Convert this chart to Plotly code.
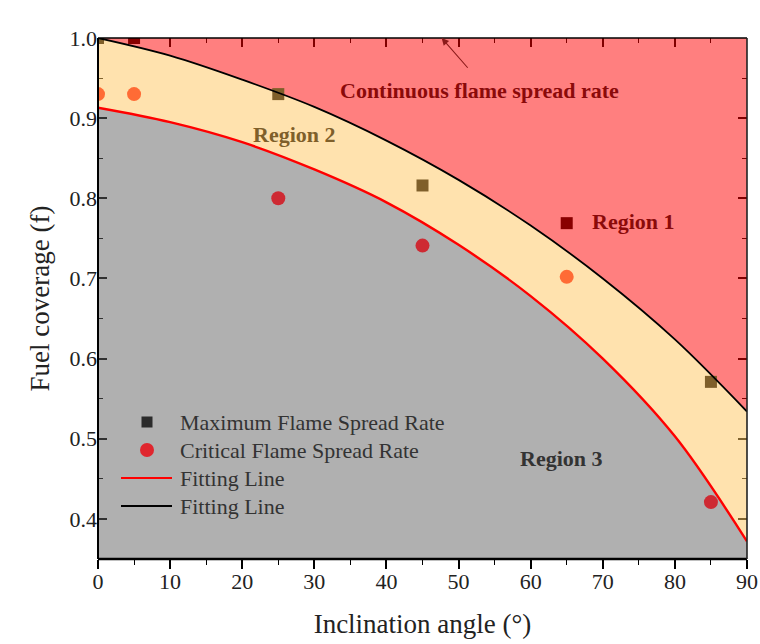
import numpy as np
import plotly.graph_objects as go

# Fitted boundary curves (inclination angle vs fuel coverage)
angle_fit = [0, 10, 20, 30, 40, 50, 60, 70, 80, 90]
max_fit = [1.000, 0.978, 0.948, 0.914, 0.872, 0.823, 0.766, 0.700, 0.624, 0.534]
crit_fit = [0.913, 0.895, 0.870, 0.836, 0.795, 0.742, 0.678, 0.600, 0.503, 0.372]

# Measured points
angle_pts = [0, 5, 25, 45, 65, 85]
max_rate = [1.0, 1.0, 0.93, 0.816, 0.769, 0.571]
crit_rate = [0.93, 0.93, 0.80, 0.741, 0.702, 0.421]

x_ticks = list(range(0, 91, 10))
y_ticks = [0.4, 0.5, 0.6, 0.7, 0.8, 0.9, 1.0]

legend_labels = ["Maximum Flame Spread Rate", "Critical Flame Spread Rate",
                 "Fitting Line", "Fitting Line"]

FONT = "Liberation Serif"
Y_MIN, Y_MAX = 0.35, 1.0

FILL_R1 = "rgba(255,0,0,0.5)"
FILL_R2 = "rgba(255,197,93,0.5)"
FILL_R3 = "rgba(97,97,97,0.5)"

# plot area in pixels (used for the hand-placed legend)
W, H = 760, 644
ML, MR, MT, MB = 98, 13, 38, 85
PW, PH = W - ML - MR, H - MT - MB


def px_to_paper(px, py):
    return (px - ML) / PW, (H - MB - py) / PH


def region_of(x, y):
    upper = np.interp(x, angle_fit, max_fit)
    lower = np.interp(x, angle_fit, crit_fit)
    if y > upper + 0.002:
        return 1
    if y > lower:
        return 2
    return 3


sq_colors = {1: "#880000", 2: "#7F5F2A", 3: "#2B2B2B"}
ci_colors = {1: "#8E1518", 2: "#FF6B35", 3: "#CE2A33"}

fig = go.Figure()

# Region 3: below the critical curve
fig.add_trace(go.Scatter(x=[0, 90], y=[Y_MIN, Y_MIN], mode="lines",
                         line=dict(width=0), hoverinfo="skip"))
fig.add_trace(go.Scatter(x=angle_fit, y=crit_fit, mode="lines", fill="tonexty",
                         fillcolor=FILL_R3, line=dict(width=0, shape="spline"),
                         hoverinfo="skip"))
# Region 2: between the two curves
fig.add_trace(go.Scatter(x=angle_fit, y=max_fit, mode="lines", fill="tonexty",
                         fillcolor=FILL_R2, line=dict(width=0, shape="spline"),
                         hoverinfo="skip"))
# Region 1: above the maximum curve
fig.add_trace(go.Scatter(x=[0, 90], y=[Y_MAX, Y_MAX], mode="lines", fill="tonexty",
                         fillcolor=FILL_R1, line=dict(width=0), hoverinfo="skip"))

# Data points coloured by the region they fall in
fig.add_trace(go.Scatter(
    x=angle_pts, y=crit_rate, mode="markers", name="Critical Flame Spread Rate",
    marker=dict(symbol="circle", size=14,
                color=[ci_colors[region_of(x, y)] for x, y in zip(angle_pts, crit_rate)],
                line=dict(width=0))))
fig.add_trace(go.Scatter(
    x=angle_pts, y=max_rate, mode="markers", name="Maximum Flame Spread Rate",
    marker=dict(symbol="square", size=12,
                color=[sq_colors[region_of(x, y)] for x, y in zip(angle_pts, max_rate)],
                line=dict(width=0))))

# Fitting lines
fig.add_trace(go.Scatter(x=angle_fit, y=crit_fit, mode="lines", name="Fitting Line",
                         line=dict(color="#FF0000", width=2.4, shape="spline")))
fig.add_trace(go.Scatter(x=angle_fit, y=max_fit, mode="lines", name="Fitting Line",
                         line=dict(color="#000000", width=1.8, shape="spline")))

# Helper trace for the mirrored (top/right) axes
fig.add_trace(go.Scatter(x=[None], y=[None], xaxis="x2", yaxis="y2", hoverinfo="skip"))

annotations = [
    dict(x=52.97, y=0.935, text="<b>Continuous flame spread rate</b>", showarrow=False,
         font=dict(family=FONT, size=22, color="#8B0A0A")),
    dict(x=74.3, y=0.771, text="<b>Region 1</b>", showarrow=False,
         font=dict(family=FONT, size=22, color="#8B0A0A")),
    dict(x=27.2, y=0.880, text="<b>Region 2</b>", showarrow=False,
         font=dict(family=FONT, size=22, color="#7F5F2A")),
    dict(x=64.3, y=0.476, text="<b>Region 3</b>", showarrow=False,
         font=dict(family=FONT, size=22, color="#333333")),
    dict(x=47.66, y=1.0, ax=51.45, ay=0.961, axref="x", ayref="y", text="",
         showarrow=True, arrowhead=2, arrowsize=1.3, arrowwidth=1.1,
         arrowcolor="#8B1A1A", standoff=0),
]

shapes = [
    dict(type="line", xref="paper", yref="paper", x0=0, x1=1, y0=0, y1=0,
         line=dict(color="black", width=2.6), layer="above"),
    dict(type="line", xref="paper", yref="paper", x0=0, x1=0, y0=0, y1=1,
         line=dict(color="black", width=2), layer="above"),
    dict(type="line", xref="paper", yref="paper", x0=0, x1=1, y0=1, y1=1,
         line=dict(color="black", width=1.6), layer="above"),
    dict(type="line", xref="paper", yref="paper", x0=1, x1=1, y0=0, y1=1,
         line=dict(color="#222222", width=1.6), layer="above"),
]

# Legend: symbols drawn as pixel-sized shapes, labels as annotations
row_y = [422, 450, 478, 506]
sym_x, line_x0, line_x1, text_x = 147, 121, 172, 178
for i, label in enumerate(legend_labels):
    xp, yp = px_to_paper(sym_x, row_y[i])
    if i == 0:
        shapes.append(dict(type="rect", xref="paper", yref="paper", xsizemode="pixel",
                           ysizemode="pixel", xanchor=xp, yanchor=yp,
                           x0=-5.5, x1=5.5, y0=-5.5, y1=5.5,
                           fillcolor="#2B2B2B", line=dict(width=0), layer="above"))
    elif i == 1:
        shapes.append(dict(type="circle", xref="paper", yref="paper", xsizemode="pixel",
                           ysizemode="pixel", xanchor=xp, yanchor=yp,
                           x0=-7, x1=7, y0=-7, y1=7,
                           fillcolor="#E0262E", line=dict(width=0), layer="above"))
    else:
        lx0, _ = px_to_paper(line_x0, row_y[i])
        lx1, _ = px_to_paper(line_x1, row_y[i])
        shapes.append(dict(type="line", xref="paper", yref="paper", x0=lx0, x1=lx1,
                           y0=yp, y1=yp, layer="above",
                           line=dict(color="#FF0000" if i == 2 else "#000000", width=1.8)))
    tx, ty = px_to_paper(text_x, row_y[i])
    annotations.append(dict(x=tx, y=ty, xref="paper", yref="paper", text=label,
                            showarrow=False, xanchor="left", yanchor="middle",
                            font=dict(family=FONT, size=22, color="#333333")))

tick_font = dict(family=FONT, size=22, color="#222222")

fig.update_traces(showlegend=False)
fig.update_layout(
    width=W, height=H,
    margin=dict(l=ML, r=MR, t=MT, b=MB, autoexpand=False),
    paper_bgcolor="white", plot_bgcolor="white",
    showlegend=False,
    annotations=annotations,
    shapes=shapes,
    xaxis=dict(range=[0, 90], tickvals=x_ticks, ticks="outside", ticklen=9, tickwidth=1.6,
               tickcolor="black", showgrid=False, zeroline=False, showline=False,
               tickfont=tick_font, layer="below traces", automargin=False,
               ticklabelstandoff=-6,
               minor=dict(dtick=5, tick0=0, ticks="outside", ticklen=5, tickwidth=1.4,
                          tickcolor="black", showgrid=False),
               title=dict(text="Inclination angle (°)", standoff=20,
                          font=dict(family=FONT, size=27, color="#222222"))),
    yaxis=dict(range=[Y_MIN, Y_MAX], tickvals=y_ticks, tickformat=".1f", ticks="inside",
               ticklen=9, tickwidth=1.6, tickcolor="black", showgrid=False, zeroline=False,
               showline=False, tickfont=tick_font, layer="below traces", automargin=False,
               minor=dict(dtick=0.05, tick0=0.35, ticks="inside", ticklen=5, tickwidth=1.4,
                          tickcolor="black", showgrid=False),
               title=dict(text="Fuel coverage (f)", standoff=12,
                          font=dict(family=FONT, size=27, color="#222222"))),
    xaxis2=dict(range=[0, 90], overlaying="x", side="top", anchor="y", tickvals=x_ticks,
                ticks="inside", ticklen=9, tickwidth=1.6, tickcolor="black",
                showticklabels=False, showgrid=False, zeroline=False, showline=False,
                layer="below traces", automargin=False,
                minor=dict(dtick=5, tick0=0, ticks="inside", ticklen=5, tickwidth=1.4,
                           tickcolor="black", showgrid=False)),
    yaxis2=dict(range=[Y_MIN, Y_MAX], overlaying="y", side="right", anchor="x",
                tickvals=y_ticks, ticks="inside", ticklen=9, tickwidth=1.6,
                tickcolor="black", showticklabels=False, showgrid=False, zeroline=False,
                showline=False, layer="below traces", automargin=False,
                minor=dict(dtick=0.05, tick0=0.35, ticks="inside", ticklen=5, tickwidth=1.4,
                           tickcolor="black", showgrid=False)),
)

fig.write_html("out.html")
